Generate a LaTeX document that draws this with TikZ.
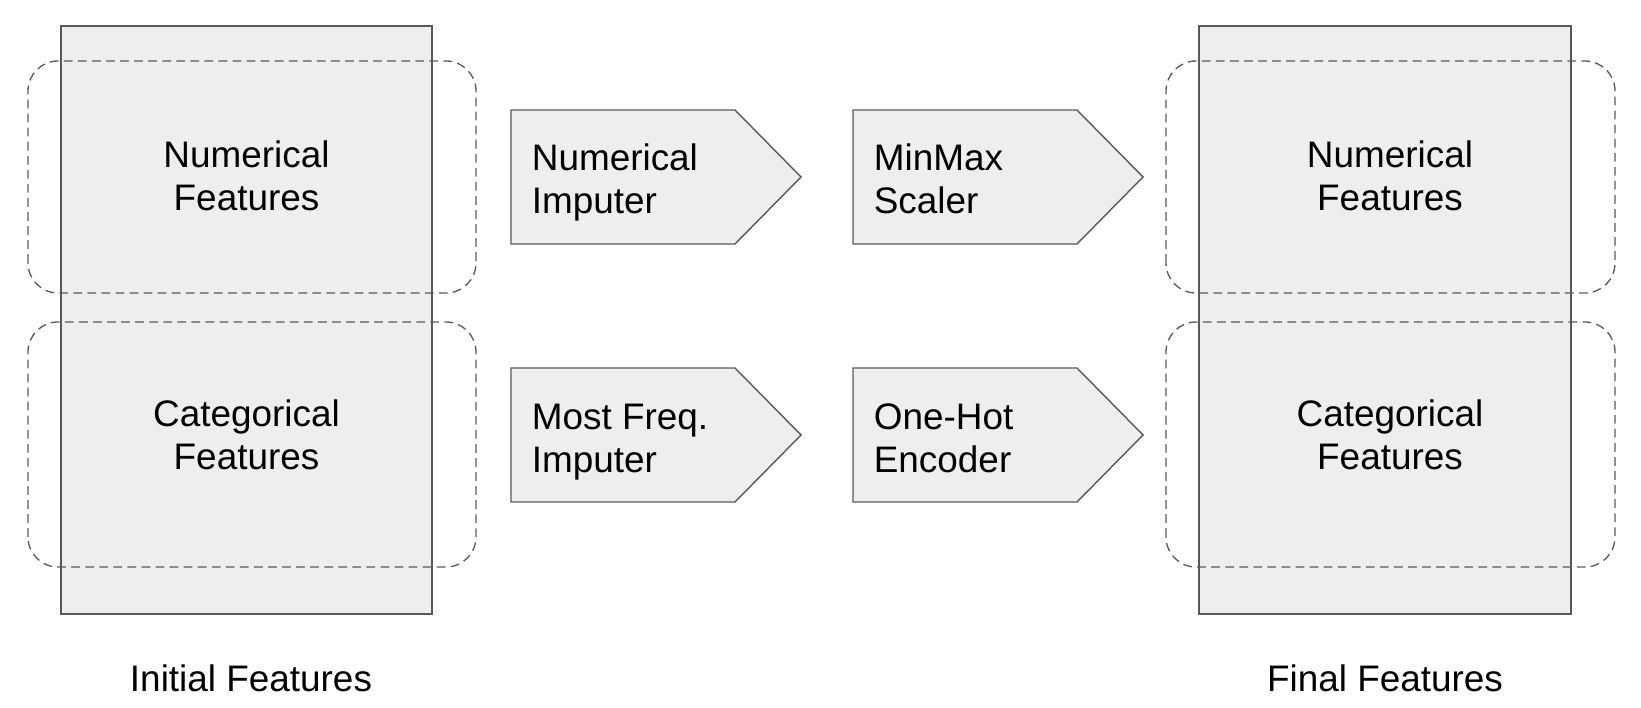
\documentclass[tikz,border=0pt]{standalone}
\usepackage{fontspec}
\setmainfont{Liberation Sans}
\definecolor{boxfill}{HTML}{EEEEEE}
\definecolor{boxline}{HTML}{595959}
\definecolor{dashline}{HTML}{5A5A5A}
\tikzset{
  featbox/.style={draw=boxline, fill=boxfill, line width=0.8pt},
  groupbox/.style={draw=dashline, line width=0.75pt, dash pattern=on 5pt off 3pt, rounded corners=0.6cm},
  steparrow/.style={draw=boxline, fill=boxfill, line width=0.8pt},
  txt/.style={font=\fontsize{21}{24.5}\selectfont, inner sep=0pt, align=center},
  steptxt/.style={txt, anchor=west, align=left}
}
\begin{document}
\begin{tikzpicture}
\useasboundingbox (0,0) rectangle (32.82,14.14);
% feature tables
\draw[featbox] (1.22,1.86) rectangle (8.64,13.62);
\draw[featbox] (23.98,1.86) rectangle (31.42,13.62);
\draw[groupbox] (0.56,8.28) rectangle (9.52,12.92);
\draw[groupbox] (0.56,2.80) rectangle (9.52,7.70);
\draw[groupbox] (23.32,8.28) rectangle (32.30,12.92);
\draw[groupbox] (23.32,2.80) rectangle (32.30,7.70);
\node[txt] (initnum) at (4.93,10.62) {Numerical\\Features};
\node[txt] (initcat) at (4.93,5.45) {Categorical\\Features};
\node[txt] (finalnum) at (27.80,10.62) {Numerical\\Features};
\node[txt] (finalcat) at (27.80,5.45) {Categorical\\Features};
\node[txt] (init) at (5.02,0.58) {Initial Features};
\node[txt] (final) at (27.70,0.58) {Final Features};
% pipeline steps
\draw[steparrow] (10.22,9.26) -- (10.22,11.94) -- (14.70,11.94) -- (16.02,10.60) -- (14.70,9.26) -- cycle;
\draw[steparrow] (17.06,9.26) -- (17.06,11.94) -- (21.54,11.94) -- (22.86,10.60) -- (21.54,9.26) -- cycle;
\draw[steparrow] (10.22,4.10) -- (10.22,6.78) -- (14.70,6.78) -- (16.02,5.44) -- (14.70,4.10) -- cycle;
\draw[steparrow] (17.06,4.10) -- (17.06,6.78) -- (21.54,6.78) -- (22.86,5.44) -- (21.54,4.10) -- cycle;
\node[steptxt] (numimp) at (10.63,10.48) {Numerical\strut\\Imputer\strut};
\node[steptxt] (scaler) at (17.47,10.48) {MinMax\strut\\Scaler\strut};
\node[steptxt] (freqimp) at (10.63,5.30) {Most Freq.\strut\\Imputer\strut};
\node[steptxt] (encoder) at (17.47,5.30) {One-Hot\strut\\Encoder\strut};
\end{tikzpicture}
\end{document}
